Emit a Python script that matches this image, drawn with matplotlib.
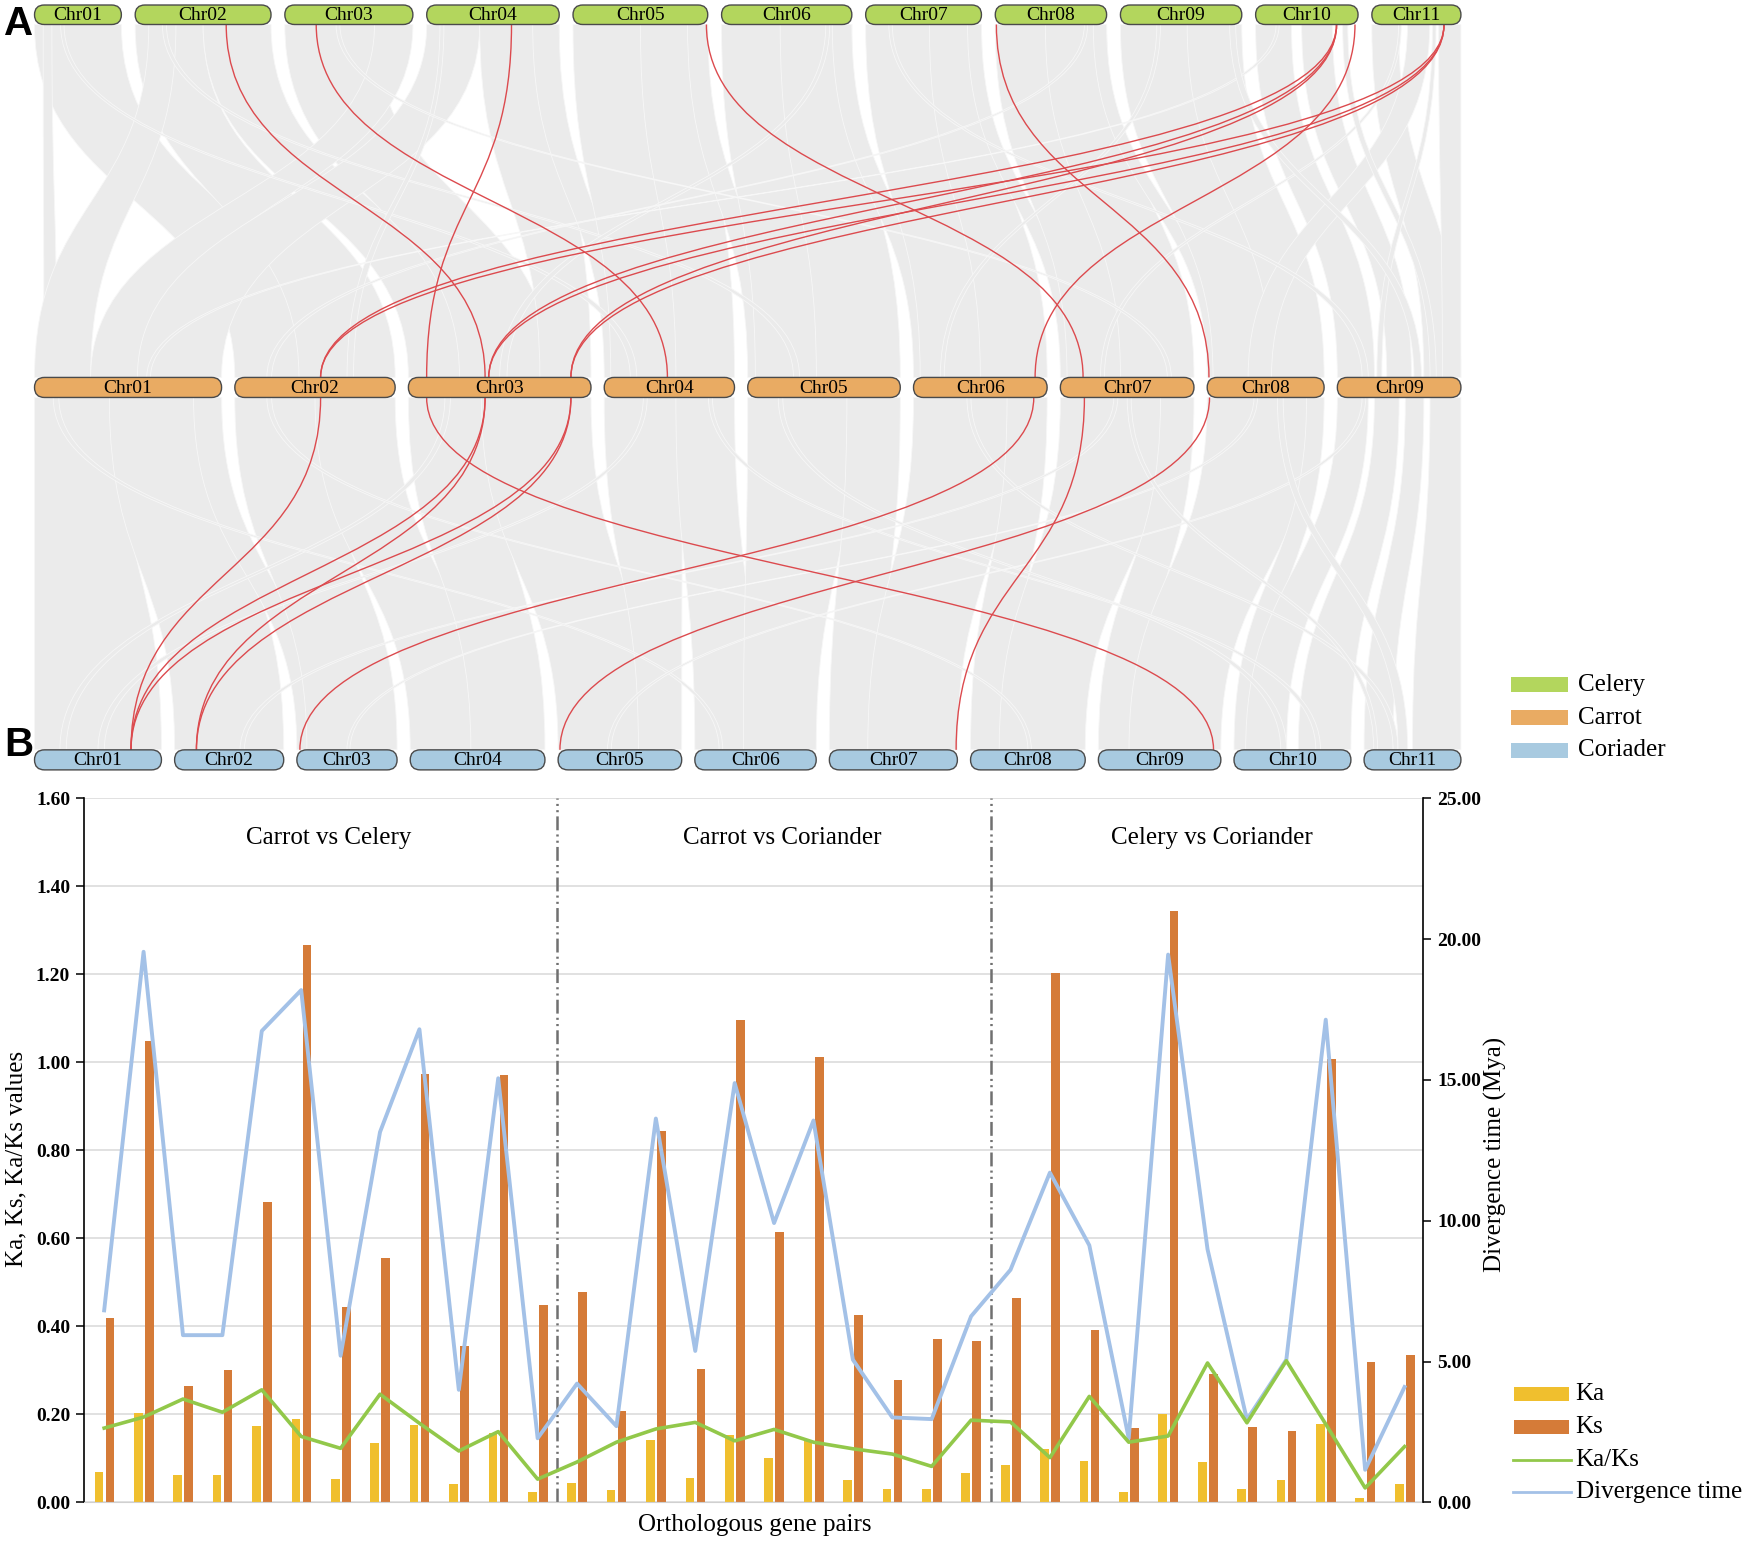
import numpy as np
import matplotlib
matplotlib.use('Agg')
import matplotlib.pyplot as plt
from matplotlib.path import Path
from matplotlib.patches import PathPatch, FancyBboxPatch, Rectangle
from matplotlib.lines import Line2D

plt.rcParams['font.family'] = ['Liberation Serif', 'DejaVu Serif']
plt.rcParams['lines.scale_dashes'] = False

# ------------------------------------------------------------------ data
celery_chroms = ['Chr01', 'Chr02', 'Chr03', 'Chr04', 'Chr05', 'Chr06', 'Chr07', 'Chr08', 'Chr09', 'Chr10', 'Chr11']
celery_len = [78, 122, 115, 119, 121, 117, 104, 100, 109, 92, 80]
carrot_chroms = ['Chr01', 'Chr02', 'Chr03', 'Chr04', 'Chr05', 'Chr06', 'Chr07', 'Chr08', 'Chr09']
carrot_len = [168, 144, 164, 117, 137, 120, 120, 105, 111]
coriander_chroms = ['Chr01', 'Chr02', 'Chr03', 'Chr04', 'Chr05', 'Chr06', 'Chr07', 'Chr08', 'Chr09', 'Chr10', 'Chr11']
coriander_len = [114, 98, 90, 121, 111, 109, 115, 103, 110, 105, 87]

# syntenic blocks: (chr_a, start_a, end_a, chr_b, start_b, end_b), positions as fraction of chromosome
celery_carrot_blocks = [
    (0, 0.00, 1.00, 1, 0.00, 0.50), (0, 0.10, 0.20, 0, 0.05, 0.12),
    (1, 0.00, 0.50, 1, 0.40, 1.00), (1, 0.50, 1.00, 2, 0.00, 0.35),
    (1, 0.10, 0.30, 0, 0.00, 0.30),
    (2, 0.00, 0.70, 2, 0.28, 0.78), (2, 0.70, 1.00, 0, 0.30, 0.60),
    (3, 0.00, 0.40, 0, 0.55, 1.00), (3, 0.40, 1.00, 2, 0.72, 1.00),
    (3, 0.80, 1.00, 3, 0.00, 0.15),
    (4, 0.00, 0.55, 3, 0.05, 0.65), (4, 0.50, 1.00, 3, 0.55, 1.00),
    (4, 0.85, 1.00, 4, 0.00, 0.15),
    (5, 0.00, 0.50, 4, 0.05, 0.55), (5, 0.45, 1.00, 4, 0.45, 1.00),
    (5, 0.85, 1.00, 5, 0.00, 0.15),
    (6, 0.00, 0.60, 5, 0.05, 0.60), (6, 0.55, 1.00, 5, 0.50, 1.00),
    (6, 0.88, 1.00, 6, 0.00, 0.12),
    (7, 0.00, 0.50, 6, 0.05, 0.55), (7, 0.45, 1.00, 6, 0.45, 1.00),
    (7, 0.88, 1.00, 7, 0.00, 0.12),
    (8, 0.00, 0.60, 7, 0.05, 0.65), (8, 0.55, 1.00, 7, 0.55, 1.00),
    (9, 0.00, 0.35, 8, 0.00, 0.30), (9, 0.45, 0.75, 8, 0.40, 0.60),
    (10, 0.00, 0.30, 8, 0.70, 1.00), (10, 0.40, 0.65, 7, 0.35, 0.55),
    (10, 0.75, 1.00, 8, 0.85, 1.00),
    (0, 0.30, 0.34, 3, 0.20, 0.25), (1, 0.20, 0.23, 4, 0.30, 0.34),
    (3, 0.10, 0.13, 1, 0.70, 0.74), (5, 0.80, 0.83, 2, 0.50, 0.54),
    (6, 0.20, 0.23, 8, 0.20, 0.25), (8, 0.30, 0.33, 5, 0.20, 0.23),
    (9, 0.20, 0.23, 0, 0.60, 0.62), (10, 0.30, 0.33, 6, 0.30, 0.33),
    (7, 0.80, 0.83, 1, 0.20, 0.23), (2, 0.40, 0.43, 6, 0.80, 0.83),
    (9, 0.85, 0.90, 8, 0.75, 0.80), (10, 0.68, 0.72, 8, 0.32, 0.36),
    (8, 0.90, 0.95, 8, 0.62, 0.68),
]
carrot_coriander_blocks = [
    (0, 0.00, 0.45, 0, 0.00, 1.00), (0, 0.40, 1.00, 1, 0.00, 1.00),
    (0, 0.85, 1.00, 2, 0.00, 0.20),
    (1, 0.00, 0.55, 2, 0.10, 1.00), (1, 0.50, 1.00, 3, 0.00, 0.55),
    (2, 0.00, 0.45, 3, 0.45, 1.00), (2, 0.40, 1.00, 4, 0.00, 0.75),
    (3, 0.00, 0.60, 4, 0.65, 1.00), (3, 0.55, 1.00, 5, 0.00, 0.50),
    (4, 0.00, 0.70, 5, 0.40, 1.00), (4, 0.65, 1.00, 6, 0.00, 0.40),
    (5, 0.00, 0.75, 6, 0.30, 1.00), (5, 0.70, 1.00, 7, 0.00, 0.35),
    (6, 0.00, 0.80, 7, 0.25, 1.00), (6, 0.75, 1.00, 8, 0.00, 0.35),
    (7, 0.00, 0.90, 8, 0.25, 1.00), (7, 0.85, 1.00, 9, 0.00, 0.20),
    (8, 0.00, 0.25, 9, 0.10, 0.45), (8, 0.30, 0.50, 9, 0.55, 1.00),
    (8, 0.55, 0.70, 10, 0.00, 0.30), (8, 0.75, 1.00, 10, 0.50, 1.00),
    (2, 0.20, 0.23, 0, 0.20, 0.25), (3, 0.30, 0.33, 0, 0.50, 0.55),
    (4, 0.20, 0.23, 9, 0.40, 0.45), (5, 0.40, 0.43, 10, 0.30, 0.35),
    (3, 0.80, 0.83, 9, 0.70, 0.74), (6, 0.40, 0.43, 1, 0.60, 0.64),
    (1, 0.20, 0.23, 7, 0.50, 0.53), (7, 0.40, 0.43, 2, 0.50, 0.53),
    (0, 0.10, 0.13, 5, 0.20, 0.23), (8, 0.20, 0.23, 4, 0.40, 0.43),
    (7, 0.60, 0.65, 10, 0.35, 0.45), (6, 0.50, 0.53, 10, 0.10, 0.14),
]
# highlighted gene pairs: (chr_a, pos_a, chr_b, pos_b)
celery_carrot_pairs = [
    (1, 0.67, 2, 0.42), (2, 0.245, 3, 0.485), (3, 0.64, 2, 0.10), (4, 0.99, 6, 0.17),
    (7, 0.01, 7, 0.015), (9, 0.97, 5, 0.91), (9, 0.79, 1, 0.535), (9, 0.79, 2, 0.44),
    (9, 0.79, 2, 0.89), (10, 0.81, 1, 0.535), (10, 0.81, 2, 0.44), (10, 0.81, 2, 0.89),
]
carrot_coriander_pairs = [
    (1, 0.535, 0, 0.76), (2, 0.42, 0, 0.76), (2, 0.42, 1, 0.20), (2, 0.89, 0, 0.76),
    (2, 0.89, 1, 0.20), (2, 0.10, 8, 0.94), (5, 0.90, 2, 0.03), (6, 0.18, 6, 0.99),
    (7, 0.02, 4, 0.015),
]
species = ['Celery', 'Carrot', 'Coriader']

# Panel B
groups = ['Carrot vs Celery', 'Carrot vs Coriander', 'Celery vs Coriander']
group_sizes = [12, 11, 11]
ka = [0.070, 0.203, 0.062, 0.062, 0.174, 0.189, 0.054, 0.136, 0.175, 0.042, 0.158, 0.024,
      0.044, 0.028, 0.141, 0.055, 0.153, 0.102, 0.140, 0.051, 0.030, 0.030, 0.067,
      0.085, 0.121, 0.095, 0.023, 0.201, 0.093, 0.031, 0.052, 0.178, 0.010, 0.042]
ks = [0.419, 1.048, 0.264, 0.301, 0.682, 1.267, 0.444, 0.556, 0.973, 0.355, 0.971, 0.449,
      0.479, 0.207, 0.845, 0.303, 1.097, 0.615, 1.012, 0.426, 0.278, 0.371, 0.366,
      0.465, 1.202, 0.392, 0.170, 1.344, 0.293, 0.172, 0.163, 1.007, 0.320, 0.336]
ka_ks = [0.169, 0.194, 0.235, 0.205, 0.256, 0.150, 0.123, 0.246, 0.180, 0.117, 0.161, 0.053,
         0.092, 0.137, 0.167, 0.182, 0.140, 0.166, 0.137, 0.122, 0.110, 0.082, 0.187,
         0.183, 0.102, 0.241, 0.137, 0.151, 0.317, 0.181, 0.322, 0.178, 0.033, 0.127]
div_time = [6.82, 19.55, 5.94, 5.94, 16.74, 18.19, 5.21, 13.15, 16.80, 4.00, 15.06, 2.28,
            4.22, 2.71, 13.63, 5.38, 14.89, 9.92, 13.56, 5.07, 3.02, 2.96, 6.61,
            8.26, 11.71, 9.13, 2.28, 19.45, 8.99, 2.94, 5.07, 17.14, 1.16, 4.10]
left_ticks = [0.0, 0.2, 0.4, 0.6, 0.8, 1.0, 1.2, 1.4, 1.6]
right_ticks = [0, 5, 10, 15, 20, 25]

# ------------------------------------------------------------------ styles
W_PX, H_PX = 1568.0, 1385.0          # layout canvas units
CEL_C, CAR_C, COR_C = '#B3D65D', '#E9AB63', '#A8CAE0'
GREY = '#EBEBEB'
RED = '#DC4A4E'
KA_C, KS_C = '#F0BF2E', '#D57B38'
RATIO_C, DIV_C = '#92C84A', '#A3C1E7'
ROWS = {'top': (4.5, 22.0), 'mid': (339.0, 357.0), 'bot': (673.5, 691.5)}
X0, X1 = 31.0, 1312.0

fig = plt.figure(figsize=(17.46, 15.42), dpi=100)
axA = fig.add_axes([0, 0, 1, 1])
axA.set_xlim(0, W_PX)
axA.set_ylim(H_PX, 0)
axA.axis('off')


def layout(lengths):
    lengths = np.asarray(lengths, float)
    gap = (X1 - X0 - lengths.sum()) / (len(lengths) - 1)
    starts = X0 + np.concatenate([[0], np.cumsum(lengths[:-1] + gap)])
    return starts, lengths


cel_s, cel_l = layout(celery_len)
car_s, car_l = layout(carrot_len)
cor_s, cor_l = layout(coriander_len)


def ribbon(xa0, xa1, ya, xb0, xb1, yb, **kw):
    ym = (ya + yb) / 2
    verts = [(xa0, ya), (xa0, ym), (xb0, ym), (xb0, yb),
             (xb1, yb), (xb1, ym), (xa1, ym), (xa1, ya), (xa0, ya)]
    codes = [Path.MOVETO, Path.CURVE4, Path.CURVE4, Path.CURVE4,
             Path.LINETO, Path.CURVE4, Path.CURVE4, Path.CURVE4, Path.CLOSEPOLY]
    axA.add_patch(PathPatch(Path(verts, codes), **kw))


def curve(xa, ya, xb, yb, **kw):
    ym = (ya + yb) / 2
    verts = [(xa, ya), (xa, ym), (xb, ym), (xb, yb)]
    codes = [Path.MOVETO, Path.CURVE4, Path.CURVE4, Path.CURVE4]
    axA.add_patch(PathPatch(Path(verts, codes), fill=False, **kw))


def draw_blocks(blocks, sa, la, sb, lb, ya, yb):
    for (ca, a0, a1, cb, b0, b1) in blocks:
        ribbon(sa[ca] + a0 * la[ca], sa[ca] + a1 * la[ca], ya,
               sb[cb] + b0 * lb[cb], sb[cb] + b1 * lb[cb], yb,
               facecolor=GREY, edgecolor='#F7F7F7', lw=0.6, zorder=1)


def draw_pairs(pairs, sa, la, sb, lb, ya, yb):
    for (ca, pa, cb, pb) in pairs:
        curve(sa[ca] + pa * la[ca], ya, sb[cb] + pb * lb[cb], yb,
              edgecolor=RED, lw=1.0, zorder=3)


draw_blocks(celery_carrot_blocks, cel_s, cel_l, car_s, car_l, ROWS['top'][1], ROWS['mid'][0])
draw_blocks(carrot_coriander_blocks, car_s, car_l, cor_s, cor_l, ROWS['mid'][1], ROWS['bot'][0])
draw_pairs(celery_carrot_pairs, cel_s, cel_l, car_s, car_l, ROWS['top'][1], ROWS['mid'][0])
draw_pairs(carrot_coriander_pairs, car_s, car_l, cor_s, cor_l, ROWS['mid'][1], ROWS['bot'][0])


def draw_row(names, starts, lengths, row, color):
    y0, y1 = ROWS[row]
    h = y1 - y0
    for name, s, l in zip(names, starts, lengths):
        axA.add_patch(FancyBboxPatch((s, y0), l, h,
                                     boxstyle='round,pad=0,rounding_size=%g' % (h / 2),
                                     facecolor=color, edgecolor='#4a4a4a', lw=1.0, zorder=5))
        axA.text(s + l / 2, (y0 + y1) / 2 + 0.5, name, ha='center', va='center',
                 fontsize=14, color='black', zorder=6)


draw_row(celery_chroms, cel_s, cel_l, 'top', CEL_C)
draw_row(carrot_chroms, car_s, car_l, 'mid', CAR_C)
draw_row(coriander_chroms, cor_s, cor_l, 'bot', COR_C)

# legend A
for i, (lab, col) in enumerate(zip(species, [CEL_C, CAR_C, COR_C])):
    yc = 615 + i * 29.5
    axA.add_patch(Rectangle((1357, yc - 6.5), 51, 13, facecolor=col, edgecolor='none'))
    axA.text(1417, yc, lab, ha='left', va='center', fontsize=18)

# legend B
for i, (lab, col) in enumerate(zip(['Ka', 'Ks'], [KA_C, KS_C])):
    yc = 1252 + i * 29.5
    axA.add_patch(Rectangle((1360, yc - 6.5), 49, 13, facecolor=col, edgecolor='none'))
    axA.text(1415, yc, lab, ha='left', va='center', fontsize=18)
for i, (lab, col) in enumerate(zip(['Ka/Ks', 'Divergence time'], [RATIO_C, DIV_C])):
    yc = 1311 + i * 29.5
    axA.add_line(Line2D([1359, 1411], [yc, yc], color=col, lw=2.0))
    axA.text(1415, yc, lab, ha='left', va='center', fontsize=18)

# panel letters
axA.text(4, 22, 'A', fontsize=29, fontweight='bold', family='Liberation Sans', ha='left', va='center')
axA.text(4, 669, 'B', fontsize=29, fontweight='bold', family='Liberation Sans', ha='left', va='center')

# ------------------------------------------------------------------ panel B
L, R, T, B = 75.5, 1278.0, 717.0, 1349.5
axB = fig.add_axes([L / W_PX, 1 - B / H_PX, (R - L) / W_PX, (B - T) / H_PX])
axB.patch.set_alpha(0)
x = np.arange(len(ka))
axB.bar(x - 0.135, ka, width=0.22, color=KA_C, zorder=2)
axB.bar(x + 0.145, ks, width=0.22, color=KS_C, zorder=2)
axB.set_xlim(-0.51, 33.47)
axB.set_ylim(0, 1.6)

ax2 = axB.twinx()
ax2.set_ylim(0, 25)
axB.add_line(Line2D(x, div_time, color=DIV_C, lw=2.8, transform=ax2.transData, zorder=3))
axB.plot(x, ka_ks, color=RATIO_C, lw=2.6, zorder=4)

axB.set_yticks(left_ticks, labels=['%.2f' % v for v in left_ticks], fontsize=14, fontweight='bold')
ax2.set_yticks(right_ticks, labels=['%.2f' % v for v in right_ticks], fontsize=14, fontweight='bold')
axB.set_xticks([])
axB.yaxis.grid(True, color='#D9D9D9', lw=1.1)
axB.set_axisbelow(True)
axB.tick_params(axis='y', direction='out', length=6, width=1.1, pad=4)
ax2.tick_params(axis='y', direction='out', length=6, width=1.1, pad=4)
axB.spines['top'].set_visible(False)
axB.spines['right'].set_visible(False)
axB.spines['bottom'].set_color('#D0D0D0')
axB.spines['left'].set_linewidth(1.2)
for sp in ['top', 'left', 'bottom']:
    ax2.spines[sp].set_visible(False)
ax2.spines['right'].set_linewidth(1.2)

# group dividers and titles
bounds = np.cumsum(group_sizes)[:-1] - 0.5
for b in bounds:
    axB.axvline(b, color='#707070', lw=1.8, linestyle=(0, (10, 3, 1.5, 3, 1.5, 3)), zorder=1)
for name, xc in zip(groups, [5.7, 17.2, 28.1]):
    axB.text(xc, 1.51, name, ha='center', va='center', fontsize=18)

fig.text(15 / W_PX, 1 - 1041 / H_PX, 'Ka, Ks, Ka/Ks values', rotation=90,
         ha='center', va='center', fontsize=18)
fig.text(1343 / W_PX, 1 - 1037 / H_PX, 'Divergence time (Mya)', rotation=90,
         ha='center', va='center', fontsize=18)
fig.text(678 / W_PX, 1 - 1370 / H_PX, 'Orthologous gene pairs', ha='center', va='center', fontsize=18)

fig.savefig('out.png', dpi=100)
